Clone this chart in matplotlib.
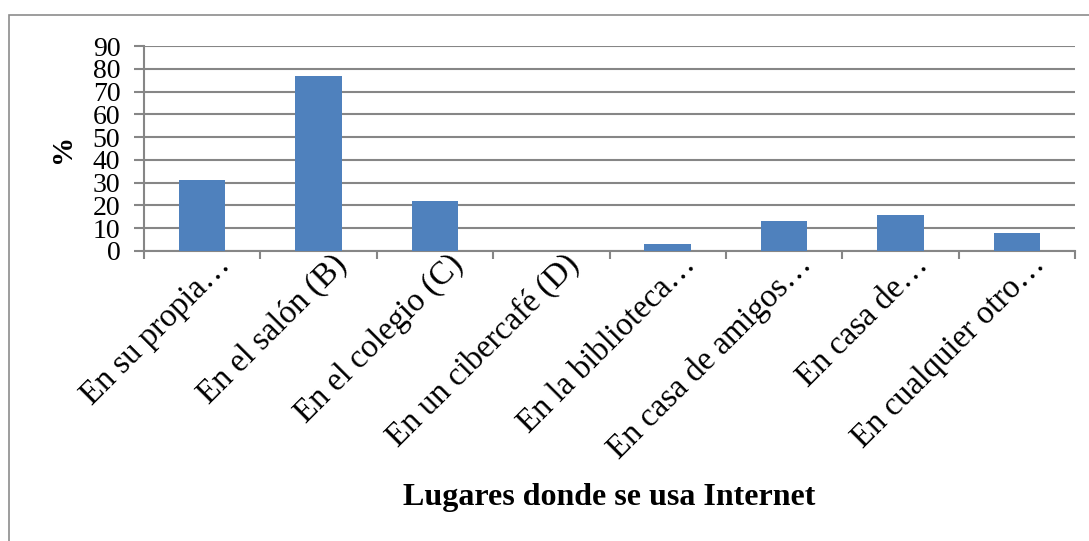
import matplotlib
matplotlib.use("Agg")
import matplotlib.pyplot as plt
from matplotlib.patches import Rectangle
from matplotlib.transforms import ScaledTranslation

# data
lugares = [
    "En su propia…",
    "En el salón (B)",
    "En el colegio (C)",
    "En un cibercafé (D)",
    "En la biblioteca…",
    "En casa de amigos…",
    "En casa de…",
    "En cualquier otro…",
]
porcentajes = [31, 77, 22, 0, 3, 13.3, 15.7, 7.8]
y_ticks = [0, 10, 20, 30, 40, 50, 60, 70, 80, 90]

BAR_BLUE = "#4f81bd"
GRID_GRAY = "#868686"

plt.rcParams.update(
    {
        "font.family": ["Liberation Serif", "DejaVu Serif"],
        "text.color": "black",
        "axes.labelcolor": "black",
        "xtick.color": GRID_GRAY,
        "ytick.color": GRID_GRAY,
        "xtick.labelcolor": "black",
        "ytick.labelcolor": "black",
    }
)

fig = plt.figure(figsize=(10.89, 5.41), dpi=100)
ax = fig.add_axes([144 / 1089, 290 / 541, 931 / 1089, 205 / 541])

pos = list(range(len(lugares)))
ax.bar(pos, porcentajes, width=0.4, color=BAR_BLUE, zorder=3)

ax.set_xlim(-0.5, len(lugares) - 0.5)
ax.set_ylim(0, 90)
ax.set_yticks(y_ticks)
ax.yaxis.grid(True, color=GRID_GRAY, linewidth=1.5, zorder=0)
ax.set_axisbelow(True)

# boundary ticks (no labels) plus centred labels
ax.set_xticks([p - 0.5 for p in pos] + [len(lugares) - 0.5])
ax.set_xticklabels([])
ax.set_xticks(pos, labels=lugares, minor=True)
ax.tick_params(axis="x", which="major", direction="out", length=6, width=1.5)
ax.tick_params(axis="x", which="minor", length=0, pad=0, labelsize=23.5)
ax.tick_params(axis="y", direction="out", length=7, width=1.5, pad=10, labelsize=20)

for spine in ("top", "right"):
    ax.spines[spine].set_visible(False)
for spine in ("left", "bottom"):
    ax.spines[spine].set_color(GRID_GRAY)
    ax.spines[spine].set_linewidth(1.5)

shift = ScaledTranslation(0.29, -0.15, fig.dpi_scale_trans)
for lbl in ax.get_xticklabels(minor=True):
    lbl.set_rotation(45)
    lbl.set_rotation_mode("anchor")
    lbl.set_ha("right")
    lbl.set_va("baseline")
    lbl.set_transform(lbl.get_transform() + shift)

ax.set_ylabel("%", fontsize=21, fontweight="bold", va="center")
ax.yaxis.set_label_coords(-0.088, 0.5)
ax.set_xlabel("Lugares donde se usa Internet", fontsize=23, fontweight="bold", va="center")
ax.xaxis.set_label_coords(0.5, -(498 - 251) / 205)

# chart frame as in the spreadsheet export
fig.patches.append(
    Rectangle((9 / 1089, -0.2), 1.2, 1.2 - 15 / 541, transform=fig.transFigure,
              fill=False, edgecolor="#8c8c8c", linewidth=1.2)
)

fig.savefig("out.png", dpi=100, facecolor="white")
